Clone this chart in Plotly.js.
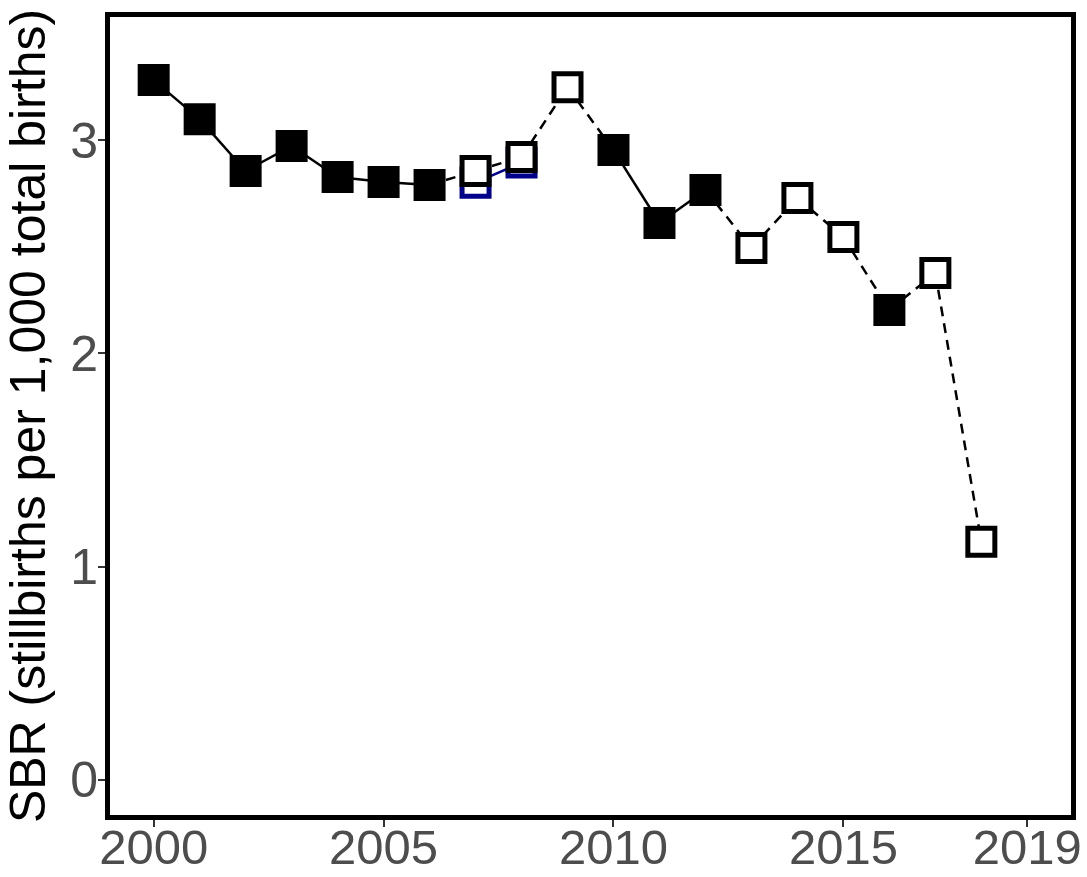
<!DOCTYPE html>
<html>
<head>
<meta charset="utf-8">
<script src="https://cdn.plot.ly/plotly-3.0.1.min.js"></script>
<style>html,body{margin:0;padding:0;background:#fff;}#chart{width:1087px;height:877px;}</style>
</head>
<body>
<div id="chart"></div>
<script>
const years = [2000, 2001, 2002, 2003, 2004, 2005, 2006, 2007, 2008, 2009, 2010, 2011, 2012, 2013, 2014, 2015, 2016, 2017, 2018];
const sbr = [3.281, 3.098, 2.855, 2.972, 2.827, 2.803, 2.789, 2.855, 2.920, 3.248, 2.953, 2.611, 2.766, 2.494, 2.728, 2.545, 2.203, 2.377, 1.116];
const filled = [1, 1, 1, 1, 1, 1, 1, 0, 0, 0, 1, 1, 1, 0, 0, 0, 1, 0, 0];
const blueYears = [2007, 2008];
const blueSbr = [2.800, 2.895];
const xTicks = [2000, 2005, 2010, 2015, 2019];
const yTicks = [0, 1, 2, 3];

const solidX = [], solidY = [], dashX = [], dashY = [];
for (let i = 0; i < years.length - 1; i++) {
  const tx = filled[i] && filled[i + 1] ? solidX : dashX;
  const ty = filled[i] && filled[i + 1] ? solidY : dashY;
  tx.push(years[i], years[i + 1], null);
  ty.push(sbr[i], sbr[i + 1], null);
}
const fx = [], fy = [], ox = [], oy = [];
years.forEach((y, i) => { if (filled[i]) { fx.push(y); fy.push(sbr[i]); } else { ox.push(y); oy.push(sbr[i]); } });

const traces = [
  {x: blueYears, y: blueSbr, mode: 'lines+markers', line: {color: '#00008B', width: 2.5},
   marker: {symbol: 'square', size: 27, color: '#ffffff', line: {color: '#00008B', width: 5}}, hoverinfo: 'skip'},
  {x: solidX, y: solidY, mode: 'lines', line: {color: '#000', width: 2.5}, connectgaps: false, hoverinfo: 'skip'},
  {x: dashX, y: dashY, mode: 'lines', line: {color: '#000', width: 2.5, dash: '10px,7px'}, connectgaps: false, hoverinfo: 'skip'},
  {x: fx, y: fy, mode: 'markers', marker: {symbol: 'square', size: 32, color: '#000', line: {width: 0}}},
  {x: ox, y: oy, mode: 'markers', marker: {symbol: 'square', size: 27, color: '#fff', line: {color: '#000', width: 5}}}
];

const layout = {
  width: 1087, height: 877,
  margin: {l: 110, r: 16, t: 17, b: 62},
  paper_bgcolor: '#fff', plot_bgcolor: '#fff',
  showlegend: false,
  font: {family: 'Liberation Sans, Arial, sans-serif'},
  xaxis: {
    range: [1999.05, 2019.95], tickvals: xTicks, ticktext: xTicks.map(String),
    showgrid: false, zeroline: false, showline: true, mirror: true, linecolor: '#000', linewidth: 5,
    ticks: 'outside', ticklen: 7, tickwidth: 2, tickcolor: '#333',
    tickfont: {size: 49, color: '#4D4D4D'}, ticklabelstandoff: -22
  },
  yaxis: {
    range: [-0.165, 3.577], tickvals: yTicks, ticktext: yTicks.map(String),
    showgrid: false, zeroline: false, showline: true, mirror: true, linecolor: '#000', linewidth: 5,
    ticks: 'outside', ticklen: 7, tickwidth: 2, tickcolor: '#333',
    tickfont: {size: 50, color: '#4D4D4D'}, ticklabelstandoff: -10,
    title: {text: 'SBR (stillbirths per 1,000 total births)', font: {size: 50, color: '#000'}, standoff: -2}
  }
};
Plotly.newPlot('chart', traces, layout, {displayModeBar: false, staticPlot: true});
</script>
</body>
</html>
